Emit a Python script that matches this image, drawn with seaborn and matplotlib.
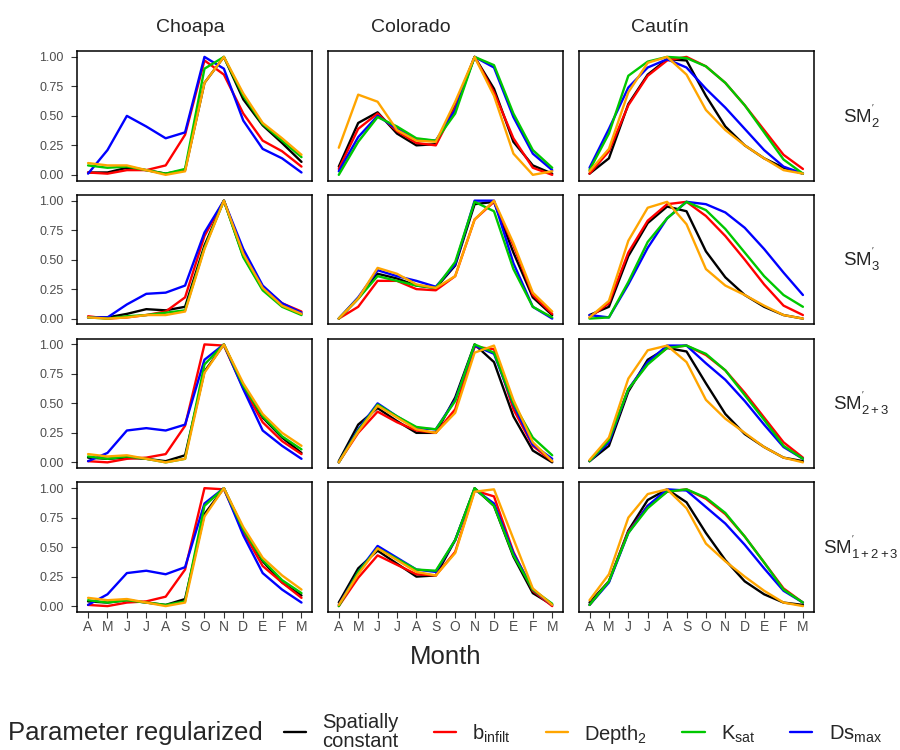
import matplotlib
matplotlib.use("Agg")
import numpy as np
import pandas as pd
import seaborn as sns
import matplotlib.pyplot as plt
from matplotlib.lines import Line2D

# ---------------- data ----------------
months = ["A", "M", "J", "J", "A", "S", "O", "N", "D", "E", "F", "M"]
basins = ["Choapa", "Colorado", "Cautín"]
layers = ["SM2", "SM3", "SM23", "SM123"]
layer_labels = [r"SM$^{'}_{2}$", r"SM$^{'}_{3}$", r"SM$^{'}_{2+3}$", r"SM$^{'}_{1+2+3}$"]
params = ["Spatially constant", "b_infilt", "Depth2", "Ksat", "Dsmax"]
param_keys = ["const", "binf", "depth", "ksat", "dsmax"]
legend_labels = ["Spatially\nconstant", r"b$_{\mathrm{infilt}}$", r"Depth$_{\mathrm{2}}$",
                 r"K$_{\mathrm{sat}}$", r"Ds$_{\mathrm{max}}$"]

choapa_sm2 = dict(
    const=[0.02, 0.02, 0.06, 0.04, 0.01, 0.04, 0.78, 1.00, 0.64, 0.42, 0.27, 0.11],
    binf=[0.02, 0.01, 0.04, 0.04, 0.08, 0.34, 0.97, 0.85, 0.52, 0.29, 0.20, 0.07],
    depth=[0.10, 0.08, 0.08, 0.04, 0.00, 0.03, 0.78, 1.00, 0.69, 0.44, 0.31, 0.17],
    ksat=[0.08, 0.06, 0.07, 0.04, 0.01, 0.05, 0.90, 1.00, 0.67, 0.43, 0.29, 0.15],
    dsmax=[0.01, 0.21, 0.50, 0.41, 0.31, 0.36, 1.00, 0.90, 0.46, 0.22, 0.14, 0.02])
colorado_sm2 = dict(
    const=[0.07, 0.44, 0.53, 0.35, 0.25, 0.26, 0.59, 1.00, 0.73, 0.28, 0.08, 0.01],
    binf=[0.05, 0.39, 0.52, 0.37, 0.27, 0.25, 0.57, 1.00, 0.70, 0.31, 0.06, 0.00],
    depth=[0.23, 0.68, 0.62, 0.38, 0.29, 0.28, 0.62, 1.00, 0.67, 0.18, 0.00, 0.03],
    ksat=[0.00, 0.28, 0.49, 0.41, 0.31, 0.29, 0.52, 1.00, 0.93, 0.52, 0.21, 0.06],
    dsmax=[0.03, 0.32, 0.50, 0.39, 0.30, 0.29, 0.55, 1.00, 0.91, 0.49, 0.18, 0.04])
cautin_sm2 = dict(
    const=[0.01, 0.14, 0.60, 0.85, 0.98, 0.97, 0.67, 0.41, 0.25, 0.14, 0.06, 0.01],
    binf=[0.01, 0.20, 0.59, 0.84, 0.97, 1.00, 0.92, 0.78, 0.59, 0.38, 0.17, 0.05],
    depth=[0.03, 0.22, 0.70, 0.95, 1.00, 0.85, 0.55, 0.38, 0.25, 0.14, 0.04, 0.01],
    ksat=[0.04, 0.35, 0.84, 0.96, 1.00, 0.99, 0.92, 0.78, 0.59, 0.36, 0.13, 0.01],
    dsmax=[0.06, 0.39, 0.74, 0.91, 0.98, 0.91, 0.73, 0.57, 0.39, 0.21, 0.07, 0.01])

choapa_sm3 = dict(
    const=[0.01, 0.01, 0.04, 0.08, 0.07, 0.10, 0.62, 1.00, 0.53, 0.25, 0.11, 0.04],
    binf=[0.02, 0.00, 0.01, 0.03, 0.06, 0.18, 0.70, 1.00, 0.56, 0.27, 0.13, 0.06],
    depth=[0.01, 0.00, 0.01, 0.03, 0.03, 0.06, 0.59, 1.00, 0.55, 0.26, 0.11, 0.04],
    ksat=[0.01, 0.00, 0.02, 0.03, 0.05, 0.07, 0.60, 1.00, 0.52, 0.24, 0.10, 0.03],
    dsmax=[0.01, 0.01, 0.12, 0.21, 0.22, 0.28, 0.73, 1.00, 0.59, 0.28, 0.13, 0.05])
colorado_sm3 = dict(
    const=[0.00, 0.17, 0.38, 0.34, 0.28, 0.26, 0.45, 0.97, 0.99, 0.56, 0.18, 0.03],
    binf=[0.00, 0.10, 0.32, 0.32, 0.25, 0.24, 0.36, 0.84, 0.99, 0.62, 0.20, 0.04],
    depth=[0.00, 0.17, 0.43, 0.38, 0.29, 0.26, 0.36, 0.84, 1.00, 0.64, 0.22, 0.06],
    ksat=[0.00, 0.17, 0.36, 0.32, 0.28, 0.26, 0.48, 0.99, 0.91, 0.42, 0.10, 0.01],
    dsmax=[0.00, 0.18, 0.41, 0.36, 0.32, 0.27, 0.46, 1.00, 1.00, 0.47, 0.10, 0.00])
cautin_sm3 = dict(
    const=[0.03, 0.10, 0.53, 0.81, 0.95, 0.91, 0.57, 0.35, 0.20, 0.10, 0.03, 0.00],
    binf=[0.01, 0.13, 0.56, 0.83, 0.97, 0.99, 0.87, 0.70, 0.50, 0.29, 0.11, 0.03],
    depth=[0.01, 0.15, 0.66, 0.94, 0.99, 0.80, 0.42, 0.28, 0.20, 0.11, 0.03, 0.00],
    ksat=[0.00, 0.01, 0.31, 0.65, 0.85, 0.99, 0.92, 0.76, 0.56, 0.36, 0.20, 0.10],
    dsmax=[0.03, 0.01, 0.29, 0.60, 0.85, 0.99, 0.97, 0.90, 0.77, 0.59, 0.39, 0.20])

choapa_sm23 = dict(
    const=[0.04, 0.03, 0.04, 0.03, 0.01, 0.06, 0.77, 1.00, 0.64, 0.38, 0.21, 0.08],
    binf=[0.01, 0.00, 0.03, 0.04, 0.07, 0.31, 1.00, 0.99, 0.63, 0.34, 0.18, 0.07],
    depth=[0.07, 0.05, 0.06, 0.03, 0.00, 0.03, 0.76, 1.00, 0.67, 0.41, 0.25, 0.14],
    ksat=[0.05, 0.03, 0.05, 0.03, 0.00, 0.03, 0.83, 1.00, 0.65, 0.39, 0.22, 0.11],
    dsmax=[0.01, 0.08, 0.27, 0.29, 0.27, 0.32, 0.87, 1.00, 0.62, 0.27, 0.14, 0.03])
colorado_sm23 = dict(
    const=[0.01, 0.32, 0.46, 0.35, 0.25, 0.25, 0.55, 1.00, 0.85, 0.39, 0.10, 0.00],
    binf=[0.00, 0.25, 0.43, 0.34, 0.27, 0.25, 0.45, 0.98, 0.96, 0.45, 0.14, 0.01],
    depth=[0.00, 0.26, 0.48, 0.38, 0.28, 0.25, 0.42, 0.93, 0.99, 0.53, 0.17, 0.01],
    ksat=[0.00, 0.27, 0.49, 0.39, 0.30, 0.28, 0.52, 1.00, 0.93, 0.50, 0.21, 0.06],
    dsmax=[0.00, 0.28, 0.50, 0.39, 0.29, 0.28, 0.53, 0.99, 0.92, 0.49, 0.15, 0.03])
cautin_sm23 = dict(
    const=[0.01, 0.14, 0.60, 0.87, 0.97, 0.94, 0.67, 0.41, 0.24, 0.13, 0.04, 0.01],
    binf=[0.01, 0.18, 0.62, 0.84, 0.97, 0.99, 0.91, 0.78, 0.59, 0.38, 0.17, 0.04],
    depth=[0.02, 0.21, 0.71, 0.95, 0.99, 0.85, 0.53, 0.37, 0.25, 0.13, 0.04, 0.00],
    ksat=[0.01, 0.19, 0.62, 0.83, 0.97, 0.99, 0.92, 0.78, 0.57, 0.36, 0.14, 0.03],
    dsmax=[0.01, 0.17, 0.62, 0.85, 0.99, 0.99, 0.84, 0.70, 0.52, 0.32, 0.13, 0.03])

choapa_sm123 = dict(
    const=[0.04, 0.03, 0.05, 0.03, 0.01, 0.06, 0.78, 1.00, 0.65, 0.38, 0.20, 0.09],
    binf=[0.01, 0.00, 0.03, 0.04, 0.08, 0.31, 1.00, 0.99, 0.63, 0.34, 0.20, 0.07],
    depth=[0.07, 0.05, 0.06, 0.03, 0.00, 0.03, 0.76, 1.00, 0.67, 0.41, 0.26, 0.14],
    ksat=[0.05, 0.03, 0.05, 0.03, 0.01, 0.04, 0.85, 1.00, 0.65, 0.39, 0.22, 0.11],
    dsmax=[0.01, 0.10, 0.28, 0.30, 0.27, 0.33, 0.87, 1.00, 0.60, 0.28, 0.14, 0.03])
colorado_sm123 = dict(
    const=[0.03, 0.32, 0.47, 0.36, 0.25, 0.26, 0.56, 1.00, 0.85, 0.42, 0.11, 0.01],
    binf=[0.00, 0.24, 0.43, 0.35, 0.27, 0.26, 0.46, 0.98, 0.93, 0.46, 0.13, 0.00],
    depth=[0.01, 0.27, 0.49, 0.39, 0.29, 0.26, 0.45, 0.97, 0.99, 0.57, 0.15, 0.01],
    ksat=[0.00, 0.29, 0.49, 0.40, 0.31, 0.30, 0.56, 1.00, 0.85, 0.43, 0.14, 0.02],
    dsmax=[0.01, 0.29, 0.51, 0.41, 0.31, 0.29, 0.56, 0.99, 0.87, 0.45, 0.14, 0.01])
cautin_sm123 = dict(
    const=[0.03, 0.21, 0.64, 0.90, 0.99, 0.88, 0.62, 0.39, 0.21, 0.10, 0.03, 0.01],
    binf=[0.01, 0.21, 0.63, 0.85, 0.97, 0.99, 0.91, 0.78, 0.59, 0.37, 0.15, 0.03],
    depth=[0.05, 0.27, 0.75, 0.95, 0.99, 0.83, 0.53, 0.38, 0.25, 0.13, 0.03, 0.00],
    ksat=[0.01, 0.21, 0.62, 0.83, 0.97, 0.99, 0.92, 0.79, 0.59, 0.37, 0.14, 0.03],
    dsmax=[0.01, 0.20, 0.62, 0.85, 0.99, 0.98, 0.84, 0.70, 0.52, 0.32, 0.13, 0.03])

panels = {
    ("Choapa", "SM2"): choapa_sm2, ("Colorado", "SM2"): colorado_sm2, ("Cautín", "SM2"): cautin_sm2,
    ("Choapa", "SM3"): choapa_sm3, ("Colorado", "SM3"): colorado_sm3, ("Cautín", "SM3"): cautin_sm3,
    ("Choapa", "SM23"): choapa_sm23, ("Colorado", "SM23"): colorado_sm23, ("Cautín", "SM23"): cautin_sm23,
    ("Choapa", "SM123"): choapa_sm123, ("Colorado", "SM123"): colorado_sm123, ("Cautín", "SM123"): cautin_sm123,
}

rows = []
for (basin, layer), d in panels.items():
    for key, pname in zip(param_keys, params):
        for i, v in enumerate(d[key]):
            rows.append(dict(basin=basin, layer=layer, param=pname, idx=i, value=v))
df = pd.DataFrame(rows)

colors = {"Spatially constant": "#000000", "b_infilt": "#FF0000", "Depth2": "#FFA500",
          "Ksat": "#00C800", "Dsmax": "#0000FF"}
draw_order = ["Spatially constant", "b_infilt", "Dsmax", "Ksat", "Depth2"]

# ---------------- style ----------------
sns.set_theme(style="ticks")
plt.rcParams["font.family"] = ["Liberation Sans", "DejaVu Sans"]
plt.rcParams["mathtext.fontset"] = "custom"
plt.rcParams["mathtext.rm"] = "Liberation Sans"
plt.rcParams["mathtext.it"] = "Liberation Sans:italic"

fig, axes = plt.subplots(4, 3, figsize=(9, 7.5), dpi=100,
                         gridspec_kw=dict(left=0.086, right=0.904, top=0.932, bottom=0.184,
                                          wspace=0.068, hspace=0.108))

lw = 1.7
for r, layer in enumerate(layers):
    for c, basin in enumerate(basins):
        ax = axes[r, c]
        sub = df[(df.basin == basin) & (df.layer == layer)]
        sns.lineplot(data=sub, x="idx", y="value", hue="param", hue_order=draw_order,
                     palette=colors, linewidth=lw, legend=False, ax=ax)
        ax.set_xlim(-0.55, 11.55)
        ax.set_ylim(-0.05, 1.05)
        ax.set_yticks([0, 0.25, 0.5, 0.75, 1.0])
        ax.set_yticklabels(["0.00", "0.25", "0.50", "0.75", "1.00"])
        ax.set_xticks(range(12))
        ax.set_xlabel("")
        ax.set_ylabel("")
        for s in ax.spines.values():
            s.set_visible(True)
            s.set_color("black")
            s.set_linewidth(1.1)
        if c == 0:
            ax.tick_params(axis="y", length=4, width=0.8, color="#333333",
                           labelsize=9, labelcolor="#4D4D4D", pad=6)
        else:
            ax.tick_params(axis="y", length=0, labelleft=False)
        if r == len(layers) - 1:
            ax.set_xticklabels(months)
            ax.tick_params(axis="x", length=4, width=0.8, color="#333333",
                           labelsize=10, labelcolor="#4D4D4D", pad=2)
        else:
            ax.tick_params(axis="x", length=0, labelbottom=False)

# column titles (positions)
title_x = [190 / 900, 411 / 900, 660 / 900]
for c, basin in enumerate(basins):
    fig.text(title_x[c], 1 - 27 / 750, basin, ha="center", va="center", fontsize=14)

# row labels
for r, lab in enumerate(layer_labels):
    pos = axes[r, 2].get_position()
    fig.text(0.957, (pos.y0 + pos.y1) / 2, lab, ha="center", va="center", fontsize=13.5)

# x label
p0 = axes[3, 0].get_position(); p2 = axes[3, 2].get_position()
fig.text((p0.x0 + p2.x1) / 2, 1 - 657 / 750, "Month", ha="center", va="center", fontsize=18.5)

# legend
fig.text(8 / 900, 1 - 733 / 750, "Parameter regularized", ha="left", va="center", fontsize=18.5)
handles = [Line2D([0], [0], color=colors[p], lw=lw) for p in params]
leg = fig.legend(handles, legend_labels, loc="center left", bbox_to_anchor=(284 / 900, 1 - 732 / 750),
                 ncol=5, frameon=False, fontsize=14.5, handlelength=1.1, handletextpad=0.8,
                 columnspacing=1.75, borderpad=0, borderaxespad=0)
for t in leg.get_texts():
    t.set_multialignment("center")
    t.set_linespacing(0.95)

fig.savefig("out.png", dpi=100)
